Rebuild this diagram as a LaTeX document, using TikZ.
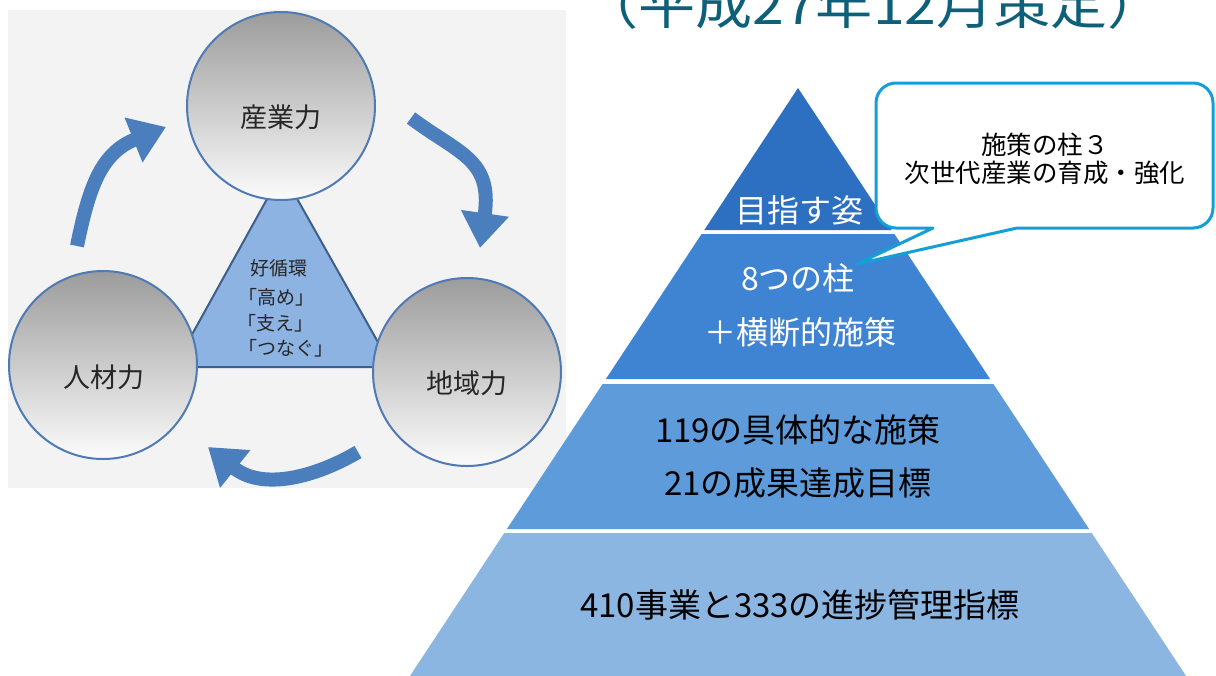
\documentclass[tikz,border=0pt]{standalone}
\usepackage{fontspec}
\setmainfont{Noto Sans CJK JP}
\usetikzlibrary{arrows.meta}
\definecolor{panelgray}{RGB}{243,243,243}
\definecolor{circborder}{RGB}{79,122,181}
\definecolor{arrowblue}{RGB}{74,126,189}
\definecolor{trifill}{RGB}{141,179,226}
\definecolor{triborder}{RGB}{62,95,138}
\definecolor{tierA}{RGB}{45,111,193}
\definecolor{tierB}{RGB}{63,132,210}
\definecolor{tierC}{RGB}{94,155,218}
\definecolor{tierD}{RGB}{140,182,226}
\definecolor{callblue}{RGB}{21,159,215}
\definecolor{titleteal}{RGB}{14,96,120}
\begin{document}
\begin{tikzpicture}[x=1pt,y=-1pt,
  ball/.style={circle, draw=circborder, line width=2pt, minimum size=188pt, inner sep=0pt, top color=gray!78, bottom color=white!97!gray},
  balltext/.style={font=\fontsize{27}{30}\selectfont, text=black!85, inner sep=0pt},
  cyc/.style={draw=arrowblue, line width=14pt, -{Triangle[width=46pt,length=35pt]}},
  tritext/.style={font=\fontsize{19}{22}\selectfont, text=black!85, inner sep=0pt},
  whitetxt/.style={font=\fontsize{32}{36}\selectfont, text=white, inner sep=0pt},
  blacktxt/.style={font=\fontsize{33}{36}\selectfont, text=black, inner sep=0pt},
]
\useasboundingbox (0,0) rectangle (1216,675);
\clip (0,0) rectangle (1216,675);
\fill[white] (0,0) rectangle (1216,675);
% left panel
\fill[panelgray] (8,10) rectangle (566,488);
% central triangle
\coordinate (tA) at (282,172);
\coordinate (tB) at (174,367);
\coordinate (tC) at (392,367);
\filldraw[fill=trifill, draw=triborder, line width=2pt] (tA) -- (tB) -- (tC) -- cycle;
% circles
\node[ball] (ind) at (281,106) {};
\node[ball] (hum) at (103,365) {};
\node[ball] (reg) at (467,372) {};
\node[balltext] (indt) at (281,117) {産業力};
\node[balltext] (humt) at (104,377) {人材力};
\node[balltext] (regt) at (467,383) {地域力};
% triangle text
\node[tritext] (t1) at (279,268) {好循環};
\node[tritext] (t2) at (276,297) {「高め」};
\node[tritext] (t3) at (275,323) {「支え」};
\node[tritext] (t4) at (286,348) {「つなぐ」};
% cycle arrows
\coordinate (a1s) at (77,246);  \coordinate (a1e) at (166,127);
\coordinate (a2s) at (411,118); \coordinate (a2e) at (480,248);
\coordinate (a3s) at (358,452); \coordinate (a3e) at (208,447);
\draw[cyc] (a1s) .. controls (89,187) and (101,153) .. (a1e);
\draw[cyc] (a2s) .. controls (459,154) and (492.6,159) .. (a2e);
\draw[cyc] (a3s) .. controls (315.5,477) and (262.6,491) .. (a3e);
% pyramid
\fill[tierA] (798,88) -- (891.7,230) -- (704.3,230) -- cycle;
\fill[tierB] (701.6,234) -- (894.4,234) -- (990.1,379) -- (605.9,379) -- cycle;
\fill[tierC] (602.6,384) -- (993.4,384) -- (1089.1,529) -- (506.9,529) -- cycle;
\fill[tierD] (504.3,533) -- (1091.7,533) -- (1188.7,680) -- (407.3,680) -- cycle;
\node[whitetxt] (p1) at (799,210) {目指す姿};
\node[whitetxt] (p2) at (798,278) {8つの柱};
\node[whitetxt] (p3) at (800,332) {＋横断的施策};
\node[blacktxt] (p4) at (798,430) {119の具体的な施策};
\node[blacktxt] (p5) at (798,483) {21の成果達成目標};
\node[blacktxt] (p6) at (800,605) {410事業と333の進捗管理指標};
% callout
\coordinate (ptip) at (857,264);
\filldraw[fill=white, draw=callblue, line width=3pt, line join=round]
  (933,228) -- (896,228) arc[start angle=90, end angle=180, radius=20]
  -- (876,103) arc[start angle=180, end angle=270, radius=20]
  -- (1193,83) arc[start angle=270, end angle=360, radius=20]
  -- (1213,208) arc[start angle=0, end angle=90, radius=20]
  -- (1017,228) -- (ptip) -- cycle;
\node[font=\fontsize{25.5}{28}\selectfont, align=center, inner sep=0pt] (callt) at (1045,159) {施策の柱３\\次世代産業の育成・強化};
% title (partly cut off at the top)
\begin{scope}[shift={(873,24)}, xscale=1.12]
\node[transform shape, anchor=base, font=\fontsize{51}{55}\selectfont, text=titleteal, inner sep=0pt] (title) at (0,0) {（平成27年12月策定）};
\end{scope}
\end{tikzpicture}
\end{document}
